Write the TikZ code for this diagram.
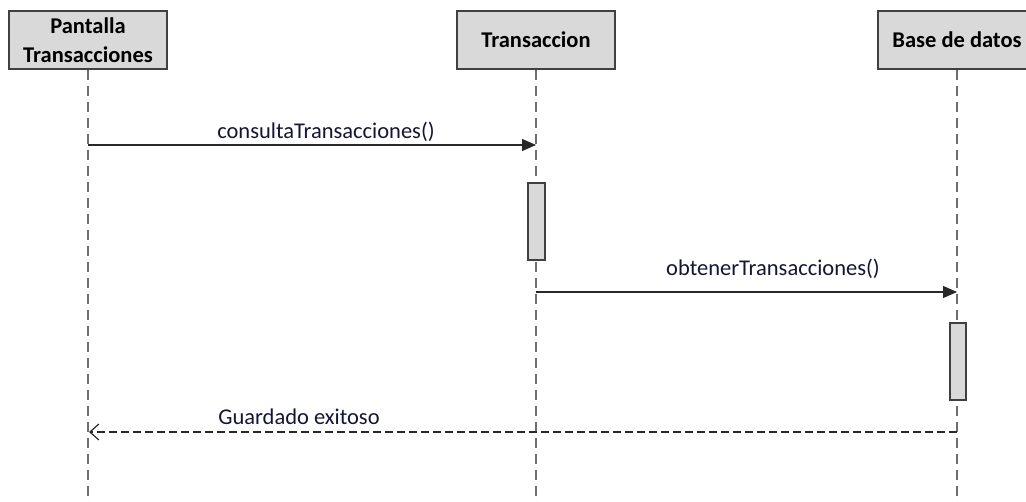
\documentclass[tikz,border=0pt]{standalone}
\usepackage{fontspec}
\setmainfont{Carlito}
\usetikzlibrary{arrows.meta}
\definecolor{boxfill}{RGB}{217,217,217}
\definecolor{boxline}{RGB}{64,64,64}
\definecolor{lifeline}{RGB}{110,110,110}
\definecolor{msgline}{RGB}{40,40,40}
\definecolor{labelcol}{RGB}{20,20,55}
\tikzset{
  hdr/.style={draw=boxline, line width=1.4pt, fill=boxfill, minimum width=158pt, minimum height=58pt,
    inner sep=0pt, align=center, font=\fontsize{22.5}{29}\selectfont\bfseries, text=black},
  act/.style={draw=boxline, line width=1.2pt, fill=boxfill, minimum width=16pt, minimum height=77pt, inner sep=0pt},
  life/.style={draw=lifeline, line width=1.3pt, dash pattern=on 10pt off 6pt},
  msg/.style={draw=msgline, line width=1.3pt, -{Triangle[length=14pt,width=12pt]}},
  ret/.style={draw=msgline, line width=1.3pt, dash pattern=on 8pt off 4pt, -{Straight Barb[length=9pt,width=16pt,line width=1.2pt]}},
  lbl/.style={font=\fontsize{22.5}{27}\selectfont, text=labelcol, anchor=base, inner sep=0pt}
}
\begin{document}
\begin{tikzpicture}[x=1pt,y=-1pt]
\useasboundingbox (0,0) rectangle (1026,502);
\clip (0,0) rectangle (1026,502);
% headers
\node[hdr] (p) at (88,40) {Pantalla\\Transacciones};
\node[hdr] (t) at (536,40) {Transaccion};
\node[hdr] (b) at (957,40) {Base de datos};
% lifeline ends
\coordinate (pe) at (88,510);
\coordinate (te) at (536,510);
\coordinate (be) at (957,510);
\draw[life] (p.south) -- (pe);
\draw[life] (t.south) -- (te);
\draw[life] (b.south) -- (be);
% activations
\node[act, minimum width=17pt] (a1) at (536.5,221.5) {};
\node[act] (a2) at (958,361.5) {};
% message coordinates
\coordinate (m1s) at (88,145);
\coordinate (m1e) at (536,145);
\coordinate (m2s) at (536,292);
\coordinate (m2e) at (957,292);
\coordinate (r1s) at (957,432);
\coordinate (r1e) at (89,432);
\draw[msg] (m1s) -- (m1e);
\draw[msg] (m2s) -- (m2e);
\draw[ret] (r1s) -- (r1e);
\node[lbl] (l1) at (326,139) {consultaTransacciones()};
\node[lbl] (l2) at (773,276) {obtenerTransacciones()};
\node[lbl] (l3) at (299,425) {Guardado exitoso};
\end{tikzpicture}
\end{document}
